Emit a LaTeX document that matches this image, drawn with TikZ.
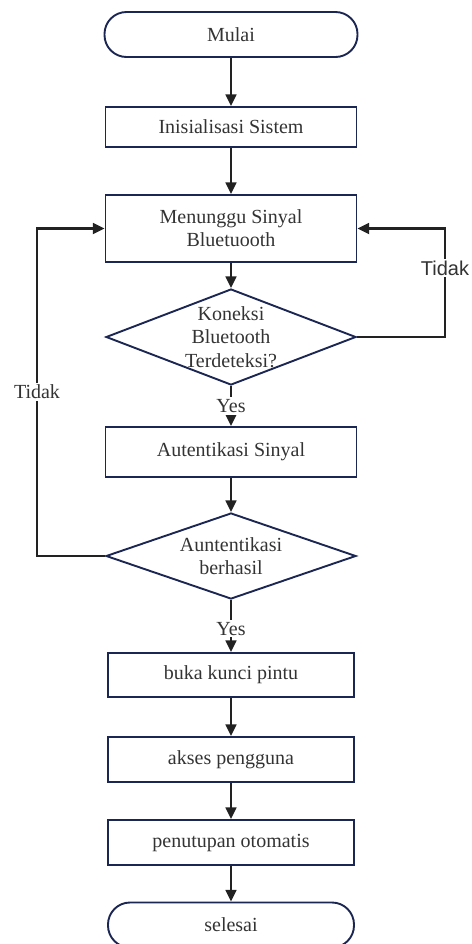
\documentclass[tikz,border=0pt]{standalone}
\usepackage{fontspec}
\setmainfont{Liberation Serif}
\setsansfont{Liberation Sans}
\usepackage{tikz}
\usetikzlibrary{shapes,arrows.meta}
\definecolor{garisbox}{HTML}{1C2652}
\definecolor{garispanah}{HTML}{222222}
\definecolor{teks}{HTML}{333333}
\tikzset{>={Triangle[width=5.4pt,length=5.8pt]}}
\tikzset{
    terminal/.style={draw=garisbox,line width=0.95pt,rectangle,rounded corners=11pt,
        minimum width=124pt,minimum height=22.5pt,text=teks,inner sep=0pt},
    proses/.style={draw=garisbox,line width=0.95pt,rectangle,minimum width=125.5pt,
        text=teks,inner sep=0pt,align=center},
    keputusan/.style={draw=garisbox,line width=0.95pt,diamond,minimum width=125pt,
        inner sep=0pt,label={[text=teks,align=center]center:#1}},
    panah/.style={->,draw=garispanah,line width=1.15pt},
    keterangan/.style={fill=white,text=teks,inner sep=1pt}
}
\begin{document}
\begin{tikzpicture}[x=0.5pt,y=-0.5pt,font=\fontsize{10}{11.6}\selectfont]
    \useasboundingbox (0,0) rectangle (472,944);
    \node[terminal,minimum width=126.5pt] (mulai) at (231,34.5) {Mulai};
    \node[proses,minimum height=20pt] (init) at (231,127) {Inisialisasi Sistem};
    \node[proses,minimum height=33.5pt] (tunggu) at (231,228.5) {Menunggu Sinyal\\Bluetuooth};
    \node[keputusan={Koneksi\\Bluetooth\\Terdeteksi?},minimum height=48pt] (cek1) at (231,337) {};
    \node[proses,minimum height=25pt] (auth) at (231,452) {Autentikasi Sinyal};
    \node[keputusan={Auntentikasi\\berhasil},minimum height=43pt] (cek2) at (231,556) {};
    \node[proses,minimum width=123pt,minimum height=22pt] (buka) at (231,675) {buka kunci pintu};
    \node[proses,minimum width=123pt,minimum height=22.5pt] (akses) at (231,759.5) {akses pengguna};
    \node[proses,minimum width=123pt,minimum height=22.5pt] (tutup) at (231,842.5) {penutupan otomatis};
    \node[terminal,minimum width=123pt] (selesai) at (231,925) {selesai};

    \coordinate (kanan) at (445,228.5);
    \coordinate (kiri) at (37,228.5);

    \draw[panah] (mulai) -- (init);
    \draw[panah] (init) -- (tunggu);
    \draw[panah] (tunggu) -- (cek1);
    \draw[panah] (cek1) -- node[keterangan] (ya1) {Yes} (auth);
    \draw[panah] (auth) -- (cek2);
    \draw[panah] (cek2) -- node[keterangan,pos=0.55] (ya2) {Yes} (buka);
    \draw[panah] (buka) -- (akses);
    \draw[panah] (akses) -- (tutup);
    \draw[panah] (tutup) -- (selesai);

    % loop kembali ke menunggu sinyal
    \draw[panah] (cek1.east) -| (kanan) -- (tunggu.east);
    \draw[panah] (cek2.west) -| (kiri) -- (tunggu.west);
    \node[keterangan,font=\sffamily\fontsize{10}{11.6}\selectfont] (tidak1) at (445,268) {Tidak};
    \node[keterangan] (tidak2) at (37,392) {Tidak};
\end{tikzpicture}
\end{document}
